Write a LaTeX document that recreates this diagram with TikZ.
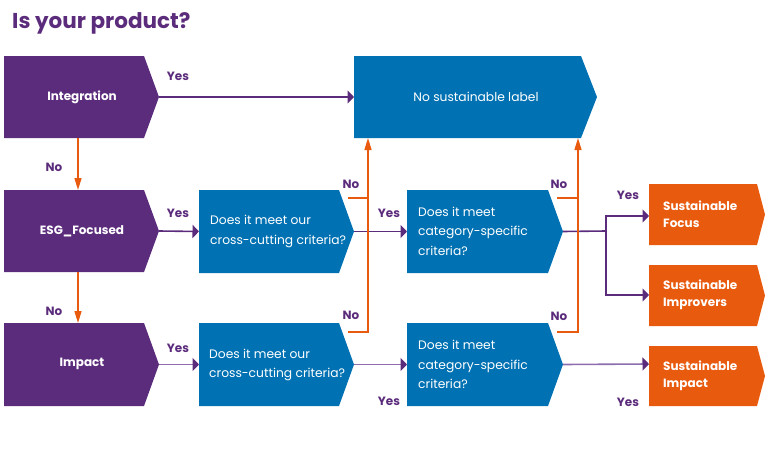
\documentclass[tikz,border=0pt]{standalone}
\usepackage{fontspec}
\setmainfont{Poppins}
\usetikzlibrary{arrows.meta}
\definecolor{cpurple}{RGB}{92,44,124}
\definecolor{cblue}{RGB}{0,113,178}
\definecolor{corange}{RGB}{232,90,14}
\definecolor{clav}{RGB}{140,110,175}
% name, x1, y1, x2 (end of straight part), y2, tip x, colour
\newcommand\chev[7]{%
  \fill[#7] (#2,#3) -- (#4,#3) -- (#6,{(#3+#5)/2}) -- (#4,#5) -- (#2,#5) -- cycle;
  \coordinate (#1-w) at (#2,{(#3+#5)/2});
  \coordinate (#1-e) at (#6,{(#3+#5)/2});
}
\begin{document}
\begin{tikzpicture}[x=1pt,y=-1pt,
  parrow/.style={draw=cpurple, line width=1.6pt, -{Triangle[length=6.5pt,width=13pt,color=cpurple]}},
  larrow/.style={draw=clav, line width=1.6pt, -{Triangle[length=6.5pt,width=13pt,color=cpurple]}},
  pline/.style={draw=cpurple, line width=1.6pt},
  oline/.style={draw=corange, line width=1.5pt},
  oarrow/.style={draw=corange, line width=1.5pt, -{Triangle[length=12pt,width=7pt]}},
  btxt/.style={text=white, anchor=west, align=left, inner sep=0, font=\fontsize{12.3}{19.5}\selectfont},
  ptxt/.style={text=white, inner sep=0, font=\fontsize{12}{14}\selectfont\bfseries},
  otxt/.style={text=white, anchor=west, align=left, inner sep=0, font=\fontsize{12}{17}\selectfont\bfseries},
  lab/.style={text=cpurple, inner sep=0, font=\fontsize{12}{14}\selectfont\bfseries},
]
\useasboundingbox (0,0) rectangle (769,471);
\node[anchor=base west, inner sep=0, text=cpurple, font=\fontsize{21.5}{24}\selectfont\bfseries] (title) at (12,28) {Is your product?};

% shapes
\chev{int}{4}{56}{144}{138}{159}{cpurple}
\chev{esg}{4}{190}{144}{272}{159}{cpurple}
\chev{imp}{4}{323}{144}{406}{159}{cpurple}
\chev{nsl}{354}{56}{581}{138}{597}{cblue}
\chev{ccA}{199}{190}{339}{273}{354}{cblue}
\chev{ccB}{199}{323}{339}{406}{354}{cblue}
\chev{csA}{407}{190}{548}{273}{563}{cblue}
\chev{csB}{407}{323}{548}{406}{563}{cblue}
\chev{sf}{649}{184}{757}{245}{765}{corange}
\chev{si}{649}{265}{757}{326}{765}{corange}
\chev{sm}{649}{346}{757}{406}{765}{corange}

% texts
\node[ptxt] (tint) at (82,97) {Integration};
\node[ptxt] (tesg) at (82,231) {ESG\_Focused};
\node[ptxt] (timp) at (82,364) {Impact};
\node[text=white, inner sep=0, font=\fontsize{12.3}{14}\selectfont] (tnsl) at (476,97) {No sustainable label};
\node[btxt] (tccA) at (210,231.5) {Does it meet our\\cross-cutting criteria?};
\node[btxt] (tccB) at (209,365) {Does it meet our\\cross-cutting criteria?};
\node[btxt] (tcsA) at (418,231) {Does it meet\\category-specific\\criteria?};
\node[btxt] (tcsB) at (418,364.5) {Does it meet\\category-specific\\criteria?};
\node[otxt] (tsf) at (663,214.5) {Sustainable\\Focus};
\node[otxt] (tsi) at (663,294.5) {Sustainable\\Improvers};
\node[otxt] (tsm) at (663,375.5) {Sustainable\\Impact};

% connector coordinates
\coordinate (nslbA) at (368,138);
\coordinate (nslbB) at (578,138);
\coordinate (noA1) at (348,198);
\coordinate (noA2) at (348,332);
\coordinate (noB1) at (557,198);
\coordinate (noB2) at (557,332);
\coordinate (split) at (606,231);
\coordinate (sfin) at (649,216);
\coordinate (siin) at (649,295);
\coordinate (smin) at (649,364);
\coordinate (intb) at (78,138);
\coordinate (esgt) at (78,190);
\coordinate (esgb) at (78,272);
\coordinate (impt) at (78,323);

% purple connectors
\draw[parrow] (int-e) -- (nsl-w);
\draw[parrow] (esg-e) -- (ccA-w);
\draw[parrow] (ccA-e) -- (csA-w);
\draw[pline] (csA-e) -- (split);
\draw[parrow] (split) |- (sfin);
\draw[parrow] (split) |- (siin);
\draw[larrow] (imp-e) -- (ccB-w);
\draw[larrow] (ccB-e) -- (csB-w);
\draw[larrow] (csB-e) -- (smin);

% orange connectors
\draw[oarrow] (intb) -- (esgt);
\draw[oarrow] (esgb) -- (impt);
\draw[oline] (noA1) -- (noA1 -| nslbA);
\draw[oarrow] (noA2) -| (nslbA);
\draw[oline] (noB1) -- (noB1 -| nslbB);
\draw[oarrow] (noB2) -| (nslbB);

% labels
\node[lab] at (178,76) {Yes};
\node[lab] at (54,167) {No};
\node[lab] at (178,213) {Yes};
\node[lab] at (54,311) {No};
\node[lab] at (178,348) {Yes};
\node[lab] at (351,184) {No};
\node[lab] at (389,213) {Yes};
\node[lab] at (351,315) {No};
\node[lab] at (389,401) {Yes};
\node[lab] at (559,184) {No};
\node[lab] at (559,316) {No};
\node[lab] at (628,195) {Yes};
\node[lab] at (628,402) {Yes};
\end{tikzpicture}
\end{document}
